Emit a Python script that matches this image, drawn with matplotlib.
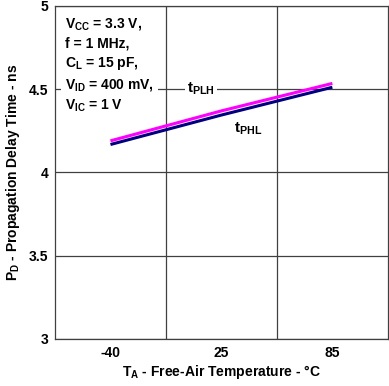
import matplotlib
matplotlib.use("Agg")
import matplotlib.pyplot as plt

plt.rcParams['font.family'] = ['Liberation Sans', 'DejaVu Sans']
plt.rcParams['font.weight'] = 'bold'
plt.rcParams['axes.labelweight'] = 'bold'
plt.rcParams['mathtext.fontset'] = 'custom'
plt.rcParams['mathtext.rm'] = 'Liberation Sans:bold'
plt.rcParams['mathtext.it'] = 'Liberation Sans:bold'
plt.rcParams['mathtext.bf'] = 'Liberation Sans:bold'

# data
temps = ['-40', '25', '85']
t_plh = [4.19, 4.37, 4.535]
t_phl = [4.168, 4.345, 4.512]
y_ticks = [3, 3.5, 4, 4.5, 5]
y_labels = ['3', '3.5', '4', '4.5', '5']

fig = plt.figure(figsize=(3.89, 3.86), dpi=100)
ax = fig.add_axes([0.1414, 0.1218, 0.8556, 0.8627])

x = list(range(len(temps)))
ax.plot(x, t_plh, color='#ff00ff', lw=2.2, solid_capstyle='butt', zorder=3)
ax.plot(x, t_phl, color='#000080', lw=2.2, solid_capstyle='butt', zorder=3)

ax.set_xlim(-0.5, 2.5)
ax.set_ylim(3, 5)
ax.set_xticks(x)
ax.set_xticklabels(temps)
ax.set_xticks([0.5, 1.5], minor=True)
ax.set_yticks(y_ticks)
ax.set_yticklabels(y_labels)
ax.tick_params(which='both', length=0, labelsize=10, pad=5)
ax.grid(True, which='minor', axis='x', color='#404040', lw=0.9)
ax.grid(True, which='major', axis='y', color='#404040', lw=0.9)
ax.set_axisbelow(True)
for s in ax.spines.values():
    s.set_color('#404040')
    s.set_linewidth(0.9)

ax.set_xlabel(r'T$_{\mathrm{A}}$ - Free-Air Temperature - °C', fontsize=10, labelpad=2)
ax.set_ylabel(r'P$_{\mathrm{D}}$ - Propagation Delay Time - ns', fontsize=10, labelpad=5)

cond = ('V$_{\\mathrm{CC}}$ = 3.3 V,\nf = 1 MHz,\nC$_{\\mathrm{L}}$ = 15 pF,\n'
        'V$_{\\mathrm{ID}}$ = 400 mV,\nV$_{\\mathrm{IC}}$ = 1 V')
ax.text(-0.41, 4.94, cond, fontsize=10, va='top', ha='left', linespacing=1.4,
        bbox=dict(facecolor='white', edgecolor='none', pad=3), zorder=2)

ax.text(0.815, 4.5, r't$_{\mathrm{PLH}}$', fontsize=11, ha='center', va='center',
        bbox=dict(facecolor='white', edgecolor='none', pad=1.5), zorder=2)
ax.text(1.24, 4.262, r't$_{\mathrm{PHL}}$', fontsize=11, ha='center', va='center', zorder=2)

fig.savefig('out.png', dpi=100)
